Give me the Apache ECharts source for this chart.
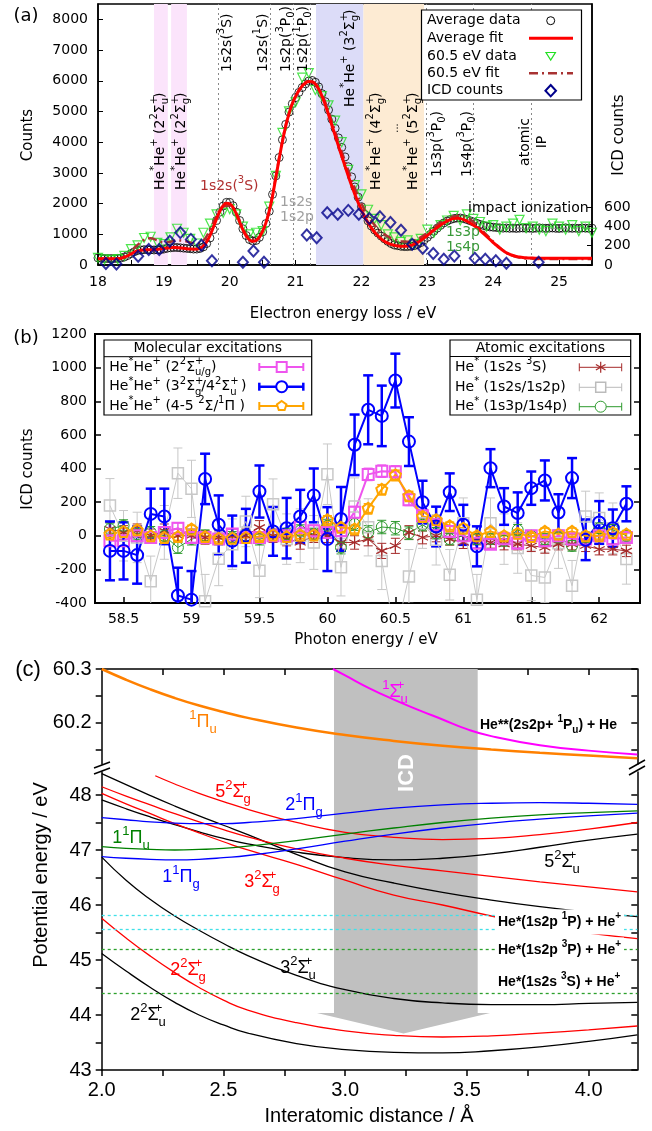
<!DOCTYPE html>
<html>
<head>
<meta charset="utf-8">
<script src="https://cdn.jsdelivr.net/npm/echarts@6.0.0/dist/echarts.min.js"></script>
<style>
html,body{margin:0;padding:0;background:#fff;}
#chart{width:652px;height:1131px;}
</style>
</head>
<body>
<div id="chart"></div>
<script>
const FA = 'DejaVu Sans';
const FC = 'Liberation Sans';

// ---------------- Panel (a): electron energy loss ----------------
const lossGrid05 = [
18,18.05,18.1,18.15,18.2,18.25,18.3,18.35,18.4,18.45,
18.5,18.55,18.6,18.65,18.7,18.75,18.8,18.85,18.9,18.95,
19,19.05,19.1,19.15,19.2,19.25,19.3,19.35,19.4,19.45,
19.5,19.55,19.6,19.65,19.7,19.75,19.8,19.85,19.9,19.95,
20,20.05,20.1,20.15,20.2,20.25,20.3,20.35,20.4,20.45,
20.5,20.55,20.6,20.65,20.7,20.75,20.8,20.85,20.9,20.95,
21,21.05,21.1,21.15,21.2,21.25,21.3,21.35,21.4,21.45,
21.5,21.55,21.6,21.65,21.7,21.75,21.8,21.85,21.9,21.95,
22,22.05,22.1,22.15,22.2,22.25,22.3,22.35,22.4,22.45,
22.5,22.55,22.6,22.65,22.7,22.75,22.8,22.85,22.9,22.95,
23,23.05,23.1,23.15,23.2,23.25,23.3,23.35,23.4,23.45,
23.5,23.55,23.6,23.65,23.7,23.75,23.8,23.85,23.9,23.95,
24,24.05,24.1,24.15,24.2,24.25,24.3,24.35,24.4,24.45,
24.5,24.55,24.6,24.65,24.7,24.75,24.8,24.85,24.9,24.95,
25,25.05,25.1,25.15,25.2,25.25,25.3,25.35,25.4,25.45,
25.5];
const avgCounts = [
230,220,210,210,210,210,215,230,260,310,
370,430,470,490,500,500,495,490,495,500,
520,545,560,570,570,560,550,540,530,520,
520,540,590,700,880,1150,1450,1720,1920,2040,
2040,1930,1720,1450,1180,960,830,780,800,900,
1080,1350,1750,2300,2900,3500,4080,4580,4980,5250,
5450,5620,5780,5900,5990,6010,5950,5800,5580,5320,
5050,4750,4450,4140,3830,3520,3200,2870,2540,2210,
1900,1650,1440,1270,1140,1040,940,850,770,700,
650,630,610,600,600,610,630,670,730,810,
900,1000,1100,1200,1290,1370,1430,1480,1510,1530,
1530,1510,1480,1440,1400,1360,1320,1290,1260,1240,
1230,1220,1210,1200,1205,1195,1200,1190,1200,1205,
1195,1200,1190,1200,1210,1200,1195,1200,1205,1195,
1190,1200,1210,1200,1195,1200,1190,1205,1200,1195,
1200];
const avgFitCounts = [
200,200,200,200,200,205,210,220,250,300,
360,420,460,480,490,495,495,500,510,525,
540,555,565,570,565,555,545,530,520,515,
520,550,620,760,960,1220,1500,1750,1930,2010,
1990,1870,1660,1400,1150,950,820,770,800,910,
1100,1380,1760,2250,2850,3450,4020,4520,4930,5250,
5490,5680,5830,5930,5980,5970,5890,5730,5500,5220,
4900,4560,4220,3880,3550,3220,2900,2590,2300,2030,
1790,1570,1380,1210,1070,950,850,770,710,670,
640,620,610,610,620,640,680,730,800,880,
960,1050,1140,1220,1300,1370,1430,1480,1510,1520,
1510,1480,1430,1370,1300,1220,1130,1030,930,830,
730,640,550,470,400,350,310,280,260,245,
235,230,225,222,220,220,220,218,218,218,
218,218,218,218,218,218,218,218,218,218,
218];
const lossGrid10 = [
18,18.1,18.2,18.3,18.4,18.5,18.6,18.7,18.8,18.9,
19,19.1,19.2,19.3,19.4,19.5,19.6,19.7,19.8,19.9,
20,20.1,20.2,20.3,20.4,20.5,20.6,20.7,20.8,20.9,
21,21.1,21.2,21.3,21.4,21.5,21.6,21.7,21.8,21.9,
22,22.1,22.2,22.3,22.4,22.5,22.6,22.7,22.8,22.9,
23,23.1,23.2,23.3,23.4,23.5,23.6,23.7,23.8,23.9,
24,24.1,24.2,24.3,24.4,24.5,24.6,24.7,24.8,24.9,
25,25.1,25.2,25.3,25.4,25.5];
const counts605 = [
230,180,160,190,300,520,640,880,920,720,
680,900,1180,1050,850,700,1050,1350,1650,1700,
1820,1650,1250,1000,1050,1100,1900,2900,4300,5000,
5300,6100,6250,5700,5500,5200,4700,4000,3100,2600,
2300,1800,1500,1300,1000,900,750,800,680,850,
1150,1050,1300,1450,1600,1450,1650,1500,1400,1250,
1300,1150,1250,1350,1470,1200,1250,1150,1100,1350,
1250,1150,1300,1100,1250,1050];
const fit605Counts = [
200,200,200,210,280,450,650,820,870,800,
740,760,800,790,730,700,800,1150,1600,1900,
1930,1680,1200,880,840,1120,1780,2880,4050,4950,
5500,5830,5970,5900,5550,5000,4350,3700,3080,2500,
2000,1600,1300,1080,930,830,770,760,800,900,
1050,1220,1380,1500,1580,1600,1540,1400,1200,980,
760,560,400,300,240,210,200,195,195,195,
195,195,195,195,195,195];
const icdLoss = [18.12,18.28,18.61,18.77,18.93,19.09,19.25,19.41,19.57,19.73,20.20,20.36,20.52,21.17,21.32,21.48,21.64,21.80,21.96,22.12,22.28,22.44,22.60,22.77,22.93,23.09,23.25,23.41,23.72,23.88,24.04,24.20,24.69];
const icdCountsA = [15,10,90,160,160,245,335,265,205,45,28,145,28,310,283,540,525,565,525,480,500,440,360,215,173,120,60,93,70,60,45,18,28];
const bandStart = [18.85, 19.11, 21.31, 22.03];
const bandEnd = [19.06, 19.35, 22.03, 22.95];
const atomicLines = [19.82, 20.61, 20.96, 21.22, 22.99, 23.70, 24.58];
const lossTicks = [18,18.5,19,19.5,20,20.5,21,21.5,22,22.5,23,23.5,24,24.5,25];
const lossLabels = [18,19,20,21,22,23,24,25];
const countLabels = [0,1000,2000,3000,4000,5000,6000,7000,8000];
const icdLabelsA = [0,200,400,600];

// ---------------- Panel (b): ICD counts vs photon energy ----------------
const photonE = [58.4,58.5,58.6,58.7,58.8,58.9,59.0,59.1,59.2,59.3,59.4,59.5,59.6,59.7,59.8,59.9,60.0,60.1,60.2,60.3,60.4,60.5,60.6,60.7,60.8,60.9,61.0,61.1,61.2,61.3,61.4,61.5,61.6,61.7,61.8,61.9,62.0,62.1,62.2];
const icdMol22 = [-30,-30,0,-10,20,45,-10,-10,-20,10,-10,-10,0,0,50,30,20,30,140,365,384,380,214,119,65,26,0,-44,-50,-18,-44,0,-30,0,-20,-20,0,-20,-10];
const errMol22 = [30,30,30,30,32,32,30,30,30,30,30,30,30,30,32,32,32,32,34,36,36,36,34,32,30,30,28,28,28,28,28,28,28,28,28,28,28,28,28];
const icdMol34 = [-90,-90,-115,130,115,-355,-380,338,65,-30,0,263,26,45,115,240,-20,100,541,749,713,923,560,200,55,259,65,-63,402,174,135,283,329,138,343,-24,79,45,190];
const errMol34 = [175,170,170,150,165,165,170,150,175,150,160,155,145,180,158,160,190,190,180,205,180,160,145,127,118,112,119,119,113,109,123,99,119,109,119,121,127,111,104];
const icdMol45 = [10,25,35,0,-10,-5,40,-5,-15,-15,-10,-5,5,-5,5,5,95,50,40,164,276,362,238,115,95,59,45,0,26,0,15,-5,26,10,26,0,0,20,10];
const errMol45 = [22,22,22,22,22,22,22,22,22,22,22,22,22,22,22,22,24,24,24,26,28,28,26,24,22,22,22,20,20,20,20,20,20,20,20,20,20,20,20];
const icdAt3S = [40,20,30,0,30,0,0,-10,-10,0,0,50,0,-20,-40,0,0,-40,-40,-20,-90,-60,20,-10,0,-20,-40,-20,-40,-50,-50,-60,-70,-50,-50,-60,-80,-80,-90];
const errAt3S = [40,40,40,40,40,40,40,40,40,40,40,40,40,40,40,40,40,40,40,40,45,45,40,38,36,36,36,34,34,34,34,34,34,34,34,34,34,34,34];
const icdAt2s2p = [180,0,-10,-271,20,372,279,-390,-137,-50,85,-208,188,-20,0,-40,366,-188,174,50,-150,-600,-242,75,-24,-232,75,-380,75,-20,-73,-236,-248,-44,-297,115,105,45,-138];
const errAt2s2p = [160,150,150,150,160,150,170,160,160,150,150,160,150,150,160,160,180,170,170,170,170,170,160,150,150,150,150,150,150,150,150,150,150,150,150,150,150,150,150];
const icdAt3p4p = [40,60,10,20,0,-70,-20,0,-20,-10,0,-20,0,10,30,10,60,-70,70,20,52,45,15,65,15,-20,0,-20,-20,-30,35,0,-20,-10,-60,-10,45,35,0];
const errAt3p4p = [35,35,35,35,35,35,35,35,35,35,35,35,35,35,35,35,38,38,38,40,40,40,38,36,34,34,34,32,32,32,32,32,32,32,32,32,32,32,32];
const photonLabels = [58.5,59,59.5,60,60.5,61,61.5,62];
const icdLabelsB = [-400,-200,0,200,400,600,800,1000,1200];

// ---------------- Panel (c): potential curves ----------------
const rGrid = [2.0,2.1,2.2,2.3,2.4,2.5,2.6,2.8,3.0,3.2,3.4,3.6,3.8,4.0,4.2];
const pot1PiuUpper = [60.300,60.280,60.262,60.246,60.232,60.220,60.209,60.191,60.177,60.166,60.157,60.150,60.144,60.139,60.134];
const r1Sigu = [2.95,3.0,3.1,3.2,3.3,3.4,3.5,3.6,3.8,4.0,4.2];
const pot1SiguUpper = [60.300,60.288,60.264,60.243,60.224,60.206,60.188,60.175,60.158,60.148,60.141];
const potBlackA = [48.39,48.19,47.99,47.80,47.62,47.45,47.28,46.92,46.60,46.40,46.23,46.09,45.97,45.87,45.79];
const pot5Su = [47.91,47.75,47.60,47.46,47.33,47.21,47.11,46.96,46.86,46.82,46.85,46.93,47.05,47.18,47.29];
const potRedA = [48.15,47.98,47.82,47.66,47.51,47.37,47.24,47.02,46.85,46.72,46.62,46.52,46.42,46.33,46.24];
const pot3Sg = [48.03,47.84,47.66,47.48,47.31,47.15,47.00,46.74,46.45,46.18,46.00,45.80,45.62,45.49,45.39];
const r5Sg = [2.22,2.3,2.4,2.5,2.6,2.8,3.0,3.2,3.4,3.6,3.8,4.0,4.2];
const pot5Sg = [48.35,48.20,48.03,47.88,47.74,47.50,47.32,47.23,47.19,47.21,47.28,47.38,47.50];
const pot2Pig = [47.59,47.55,47.51,47.49,47.48,47.48,47.50,47.57,47.67,47.76,47.82,47.85,47.86,47.85,47.83];
const pot1Pig = [46.88,46.85,46.83,46.82,46.83,46.86,46.90,47.02,47.16,47.29,47.40,47.49,47.56,47.62,47.67];
const pot1Piu = [47.06,47.03,47.01,47.00,47.01,47.03,47.07,47.17,47.29,47.40,47.50,47.58,47.64,47.68,47.71];
const pot3Su = [46.87,46.45,46.10,45.80,45.54,45.30,45.08,44.72,44.46,44.30,44.22,44.19,44.19,44.21,44.23];
const pot2Sg = [45.76,45.40,45.07,44.77,44.50,44.27,44.09,43.86,43.71,43.63,43.60,43.62,43.67,43.73,43.80];
const pot2Su = [45.12,44.80,44.50,44.23,44.00,43.82,43.67,43.48,43.37,43.32,43.31,43.35,43.42,43.52,43.64];
const asymptotes = [45.81, 45.56, 45.20, 44.40];
const distTicks = [2.0,2.25,2.5,2.75,3.0,3.25,3.5,3.75,4.0];
const distTicksTop = [2.25,2.5,2.75,3.0,3.25,3.5,3.75,4.0];
const distLabels = [2.0,2.5,3.0,3.5,4.0];
const upperTicks = [60.15,60.2,60.25,60.3];
const upperLabels = [60.2,60.3];
const lowerTicks = [43,43.5,44,44.5,45,45.5,46,46.5,47,47.5,48];
const lowerLabels = [43,44,45,46,47,48];

// ---------------- helpers ----------------
function pairs(xs, ys) { return xs.map((x, i) => [x, ys[i]]); }

function rt(s) {
  let out = '', buf = '', i = 0;
  const flush = () => { if (buf) { out += '{n|' + buf + '}'; buf = ''; } };
  while (i < s.length) {
    const c = s[i];
    if (c === '^' || c === '_') {
      flush(); i++;
      let z = false;
      if (s[i] === '!') { z = true; i++; }
      let t;
      if (s[i] === '{') { const j = s.indexOf('}', i); t = s.slice(i + 1, j); i = j + 1; }
      else { t = s[i]; i++; }
      out += '{' + (c === '^' ? 'p' : 'b') + (z ? 'z' : '') + '|' + t + '}';
    } else { buf += c; i++; }
  }
  flush();
  return out;
}
function fontStr(size, fam, weight) { return (weight || 'normal') + ' ' + size + 'px "' + fam + '"'; }
function richSet(size, fam, color, weight) {
  const s = Math.round(size * 0.7);
  const lh = Math.round(size * 1.5);
  return {
    n: {font: fontStr(size, fam, weight), fill: color, lineHeight: lh},
    p: {font: fontStr(s, fam, weight), fill: color, verticalAlign: 'top'},
    b: {font: fontStr(s, fam, weight), fill: color, verticalAlign: 'bottom'},
    pz: {font: fontStr(s, fam, weight), fill: color, verticalAlign: 'top', width: 0.01},
    bz: {font: fontStr(s, fam, weight), fill: color, verticalAlign: 'bottom', width: 0.01}
  };
}
function T(str, x, y, o) {
  o = o || {};
  const size = o.size || 14, fam = o.fam || FA, color = o.color || '#000';
  const el = {
    type: 'text', x: x, y: y, z: o.z || 100, silent: true,
    rotation: o.rot ? Math.PI / 2 : 0,
    style: {
      text: rt(str), rich: richSet(size, fam, color, o.weight),
      font: fontStr(size, fam, o.weight), fill: color,
      align: o.align || 'center', verticalAlign: 'middle'
    }
  };
  if (o.bg) { el.style.backgroundColor = o.bg; el.style.padding = o.pad || [1, 3]; }
  return el;
}
function P(str, x, y, o) {
  o = o || {};
  const size = o.size || 14, fam = o.fam || FA;
  return {
    type: 'text', x: x, y: y, z: o.z || 100, silent: true,
    rotation: o.rot ? Math.PI / 2 : 0,
    style: {
      text: str, font: fontStr(size, fam, o.weight), fill: o.color || '#000',
      align: o.align || 'center', verticalAlign: 'middle', lineHeight: o.lh || Math.round(size * 1.2)
    }
  };
}
function axLine(w) { return {show: true, onZero: false, lineStyle: {color: '#000', width: w}}; }
const plainNum = v => String(v);
const fontA = {color: '#000', fontFamily: FA, fontSize: 14, formatter: plainNum};
const fontC = {color: '#000', fontFamily: FC, fontSize: 20, formatter: plainNum};

// symbol paths
const ASTERISK = 'path://M0,-10L0,10M-8.66,-5L8.66,5M-8.66,5L8.66,-5';
const PENTAGON = 'path://M0,-10L9.51,-3.09L5.88,8.09L-5.88,8.09L-9.51,-3.09Z';

// ---------------- series ----------------
const series = [];
const bandColors = ['#fbe4fb', '#fbe4fb', '#dcdcf8', '#fdebd3'];

series.push({
  type: 'scatter', xAxisIndex: 0, yAxisIndex: 0, silent: true, z: 2,
  data: pairs(lossGrid05, avgCounts), symbol: 'circle', symbolSize: 8,
  itemStyle: {color: 'rgba(0,0,0,0)', borderColor: '#000', borderWidth: 1},
  markArea: {silent: true, data: bandStart.map((s, i) => [{xAxis: s, itemStyle: {color: bandColors[i], opacity: 1}}, {xAxis: bandEnd[i]}])},
  markLine: {silent: true, symbol: ['none', 'none'], label: {show: false},
    lineStyle: {type: [2, 3], color: '#888', width: 1}, data: atomicLines.map(v => ({xAxis: v}))}
});
series.push({
  type: 'scatter', xAxisIndex: 0, yAxisIndex: 0, silent: true, z: 3,
  data: pairs(lossGrid10, counts605), symbol: 'triangle', symbolRotate: 180, symbolSize: 9,
  itemStyle: {color: 'rgba(0,0,0,0)', borderColor: '#22e022', borderWidth: 1.2}
});
series.push({
  type: 'line', xAxisIndex: 0, yAxisIndex: 0, silent: true, z: 4, smooth: true, showSymbol: false,
  data: pairs(lossGrid10, fit605Counts),
  lineStyle: {color: '#a83232', width: 2.5, type: [9, 4, 2, 4]}
});
series.push({
  type: 'line', xAxisIndex: 0, yAxisIndex: 0, silent: true, z: 5, smooth: true, showSymbol: false,
  data: pairs(lossGrid05, avgFitCounts),
  lineStyle: {color: '#ff0000', width: 3}
});
series.push({
  type: 'scatter', xAxisIndex: 0, yAxisIndex: 1, silent: true, z: 6,
  data: pairs(icdLoss, icdCountsA), symbol: 'diamond', symbolSize: [10, 11],
  itemStyle: {color: 'rgba(0,0,0,0)', borderColor: '#00008b', borderWidth: 2}
});

function errSeries(ys, es, color, w, cap) {
  return {
    type: 'custom', xAxisIndex: 1, yAxisIndex: 2, clip: true, silent: true, z: 2,
    data: photonE.map((x, i) => [x, ys[i], es[i]]),
    encode: {x: 0, y: 1},
    renderItem: function (params, api) {
      const x = api.value(0), y = api.value(1), e = api.value(2);
      const a = api.coord([x, y + e]), b = api.coord([x, y - e]);
      const st = {stroke: color, lineWidth: w};
      return {type: 'group', children: [
        {type: 'line', shape: {x1: a[0], y1: a[1], x2: b[0], y2: b[1]}, style: st},
        {type: 'line', shape: {x1: a[0] - cap, y1: a[1], x2: a[0] + cap, y2: a[1]}, style: st},
        {type: 'line', shape: {x1: b[0] - cap, y1: b[1], x2: b[0] + cap, y2: b[1]}, style: st}
      ]};
    }
  };
}
function ptSeries(ys, color, lw, sym, size, bw) {
  return {
    type: 'line', xAxisIndex: 1, yAxisIndex: 2, silent: true, z: 2, clip: true,
    data: pairs(photonE, ys), symbol: sym, symbolSize: size, showSymbol: true, showAllSymbol: true,
    lineStyle: {color: color, width: lw},
    itemStyle: {color: 'rgba(0,0,0,0)', borderColor: color, borderWidth: bw}
  };
}
const cGray = '#c8c8c8', cBrown = '#a52a2a', cGreen = '#2e9a2e', cMag = '#ee55ee', cBlue = '#0000ff', cOra = '#ffa500';
series.push(errSeries(icdAt2s2p, errAt2s2p, cGray, 1, 4.5));
series.push(ptSeries(icdAt2s2p, cGray, 1, 'rect', 11, 1.5));
series.push(errSeries(icdAt3S, errAt3S, cBrown, 1, 4.5));
series.push(ptSeries(icdAt3S, cBrown, 1, ASTERISK, 11, 1.2));
series.push(errSeries(icdAt3p4p, errAt3p4p, cGreen, 1, 4.5));
series.push(ptSeries(icdAt3p4p, cGreen, 1, 'circle', 11, 1));
series.push(errSeries(icdMol22, errMol22, cMag, 1.5, 4.5));
series.push(ptSeries(icdMol22, cMag, 2, 'rect', 11, 2));
series.push(errSeries(icdMol34, errMol34, cBlue, 2.5, 5));
series.push(ptSeries(icdMol34, cBlue, 2, 'circle', 12, 2));
series.push(errSeries(icdMol45, errMol45, cOra, 1.5, 4.5));
series.push(ptSeries(icdMol45, cOra, 2, PENTAGON, 11, 2));

// panel (c)
series.push({type: 'line', xAxisIndex: 2, yAxisIndex: 4, silent: true, smooth: true, showSymbol: false, z: 2,
  data: pairs(rGrid, pot1PiuUpper), lineStyle: {color: '#ff8000', width: 2.5}});
series.push({type: 'line', xAxisIndex: 2, yAxisIndex: 4, silent: true, smooth: true, showSymbol: false, z: 2,
  data: pairs(r1Sigu, pot1SiguUpper), lineStyle: {color: '#ff00ff', width: 2}});
const lowerCurves = [
  [rGrid, potBlackA, '#000000'], [rGrid, pot5Su, '#000000'], [rGrid, potRedA, '#ff0000'],
  [rGrid, pot3Sg, '#ff0000'], [r5Sg, pot5Sg, '#ff0000'], [rGrid, pot2Pig, '#0000ff'],
  [rGrid, pot1Pig, '#0000ff'], [rGrid, pot1Piu, '#008000'], [rGrid, pot3Su, '#000000'],
  [rGrid, pot2Sg, '#ff0000'], [rGrid, pot2Su, '#000000']
];
const asymColors = ['#40e0e8', '#40e0e8', '#2ca02c', '#2ca02c'];
lowerCurves.forEach((c, k) => {
  const s = {type: 'line', xAxisIndex: 3, yAxisIndex: 6, silent: true, smooth: true, showSymbol: false, z: 2,
    data: pairs(c[0], c[1]), lineStyle: {color: c[2], width: 1.3}};
  if (k === lowerCurves.length - 1) {
    s.markLine = {silent: true, symbol: ['none', 'none'], label: {show: false},
      data: asymptotes.map((v, i) => ({yAxis: v, lineStyle: {color: asymColors[i], type: [3, 3], width: 1.3}}))};
  }
  series.push(s);
});

// ---------------- graphics ----------------
const G = [];
// panel labels & axis titles
G.push(P('(a)', 26, 16, {size: 18}));
G.push(P('(b)', 26, 338, {size: 18}));
G.push(P('(c)', 28, 670, {size: 22, fam: FC}));
G.push(P('Counts', 28, 135, {size: 15, rot: true}));
G.push(P('ICD counts', 619, 135, {size: 15, rot: true}));
G.push(P('Electron energy loss / eV', 343, 314, {size: 15}));
G.push(P('ICD counts', 28, 469, {size: 15, rot: true}));
G.push(P('Photon energy / eV', 366, 640, {size: 15}));
G.push(P('Potential energy / eV', 41, 875, {size: 20, fam: FC, rot: true}));
G.push(P('Interatomic distance / Å', 369, 1116, {size: 20, fam: FC}));

// panel (a) annotations (rotated, anchored at bottom)
const rotA = [
  ['1s2s(^3S)', 227, 72], ['1s2s(^1S)', 263, 72], ['1s2p(^3P_0)', 286, 72], ['1s2p(^1P_0)', 303, 72],
  ['He^*He^+ (3^2Σ^!+_g)', 350, 107], ['He^*He^+ (4^2Σ^!+_g)', 376, 190], ['He^*He^+ (5^2Σ^!+_g)', 413, 190],
  ['1s3p(^3P_0)', 437, 177], ['1s4p(^3P_0)', 467, 177],
  ['He^*He^+ (2^2Σ^!+_u)', 160, 190], ['He^*He^+ (2^2Σ^!+_g)', 181, 190]
];
rotA.forEach(a => G.push(T(a[0], a[1], a[2], {rot: true, align: 'left'})));
G.push(P('...', 395, 128, {rot: true, size: 10}));
G.push(P('atomic\nIP', 534, 142, {rot: true, lh: 17}));
G.push(T('1s2s(^3S)', 200, 186, {align: 'left', color: '#b03030'}));
G.push(P('1s2s\n1s2p', 280, 210, {align: 'left', color: '#a0a0a0', lh: 15}));
G.push(P('impact ionization', 468, 208, {align: 'left'}));
G.push(P('1s3p\n1s4p', 446, 240, {align: 'left', color: '#3a9a3a', lh: 15}));

// legend (a)
G.push({type: 'rect', z: 99, silent: true, shape: {x: 421.5, y: 10, width: 160, height: 90}, style: {fill: '#fff', stroke: '#000', lineWidth: 1.2}});
const legA = ['Average data', 'Average fit', '60.5 eV data', '60.5 eV fit', 'ICD counts'];
const legAY = [20.7, 38.3, 56, 73.3, 90.7];
legA.forEach((t, i) => G.push(P(t, 427, legAY[i], {align: 'left'})));
G.push({type: 'circle', z: 101, silent: true, shape: {cx: 550.7, cy: 20.7, r: 4}, style: {fill: 'none', stroke: '#000', lineWidth: 1}});
G.push({type: 'line', z: 101, silent: true, shape: {x1: 529, y1: 38.3, x2: 573, y2: 38.3}, style: {stroke: '#ff0000', lineWidth: 3}});
G.push({type: 'polygon', z: 101, silent: true, shape: {points: [[546, 52.5], [555.4, 52.5], [550.7, 60]]}, style: {fill: 'none', stroke: '#22e022', lineWidth: 1.2}});
G.push({type: 'line', z: 101, silent: true, shape: {x1: 529, y1: 73.3, x2: 573, y2: 73.3}, style: {stroke: '#a83232', lineWidth: 2.5, lineDash: [9, 4, 2, 4]}});
G.push({type: 'polygon', z: 101, silent: true, shape: {points: [[550.7, 85], [556, 90.7], [550.7, 96.4], [545.4, 90.7]]}, style: {fill: 'none', stroke: '#00008b', lineWidth: 2}});

// legends (b)
function legSym(kind, cx, cy, color, bw, lw, x1, x2) {
  const st = {stroke: color, lineWidth: lw};
  const out = [
    {type: 'line', z: 101, silent: true, shape: {x1: x1, y1: cy, x2: x2, y2: cy}, style: st},
    {type: 'line', z: 101, silent: true, shape: {x1: x1, y1: cy - 4, x2: x1, y2: cy + 4}, style: st},
    {type: 'line', z: 101, silent: true, shape: {x1: x2, y1: cy - 4, x2: x2, y2: cy + 4}, style: st}
  ];
  const ss = {fill: '#fff', stroke: color, lineWidth: bw};
  if (kind === 'square') out.push({type: 'rect', z: 102, silent: true, shape: {x: cx - 5, y: cy - 5, width: 10, height: 10}, style: ss});
  if (kind === 'circle') out.push({type: 'circle', z: 102, silent: true, shape: {cx: cx, cy: cy, r: 5.5}, style: ss});
  if (kind === 'pent') out.push({type: 'polygon', z: 102, silent: true, shape: {points: [[cx, cy - 5], [cx + 4.76, cy - 1.55], [cx + 2.94, cy + 4.05], [cx - 2.94, cy + 4.05], [cx - 4.76, cy - 1.55]]}, style: ss});
  if (kind === 'ast') {
    const s2 = {stroke: color, lineWidth: bw};
    out.push({type: 'line', z: 102, silent: true, shape: {x1: cx, y1: cy - 5.5, x2: cx, y2: cy + 5.5}, style: s2});
    out.push({type: 'line', z: 102, silent: true, shape: {x1: cx - 4.8, y1: cy - 2.8, x2: cx + 4.8, y2: cy + 2.8}, style: s2});
    out.push({type: 'line', z: 102, silent: true, shape: {x1: cx - 4.8, y1: cy + 2.8, x2: cx + 4.8, y2: cy - 2.8}, style: s2});
  }
  return out;
}
function legBox(x, y, w, h, sepY, title) {
  G.push({type: 'rect', z: 99, silent: true, shape: {x: x, y: y, width: w, height: h}, style: {fill: '#fff', stroke: '#000', lineWidth: 1.2}});
  G.push({type: 'line', z: 100, silent: true, shape: {x1: x, y1: sepY, x2: x + w, y2: sepY}, style: {stroke: '#000', lineWidth: 1}});
  G.push(P(title, x + w / 2, (y + sepY) / 2 + 0.5, {}));
}
legBox(104, 340, 207.7, 75, 356.7, 'Molecular excitations');
legBox(450, 340, 180.7, 75, 356.5, 'Atomic excitations');
const legBL = [['He^*He^+ (2^2Σ^!+_{u/g})', 'square', cMag, 2, 2], ['He^*He^+ (3^2Σ^!+_g/4^2Σ^!+_u )', 'circle', cBlue, 2, 2.5], ['He^*He^+ (4-5 ^2Σ/^1Π )', 'pent', cOra, 2, 2]];
const legBLY = [367, 386.7, 406];
legBL.forEach((r, i) => {
  G.push(T(r[0], 109.3, legBLY[i], {align: 'left'}));
  legSym(r[1], 281.7, legBLY[i], r[2], r[3], r[4], 259.3, 303.3).forEach(e => G.push(e));
});
const legBR = [['He^* (1s2s ^3S)', 'ast', cBrown, 1.2, 1], ['He^* (1s2s/1s2p)', 'square', '#bbbbbb', 1.5, 1], ['He^* (1s3p/1s4p)', 'circle', cGreen, 1, 1]];
const legBRY = [367.3, 387.3, 406.7];
legBR.forEach((r, i) => {
  G.push(T(r[0], 455, legBRY[i], {align: 'left'}));
  legSym(r[1], 600.7, legBRY[i], r[2], r[3], r[4], 579.3, 621.7).forEach(e => G.push(e));
});

// panel (c) decorations
G.push({type: 'polygon', z: 1, silent: true, shape: {points: [[334, 669], [477.7, 669], [477.7, 1013], [490, 1013], [403.5, 1033.5], [317, 1013], [334, 1013]]}, style: {fill: '#c0c0c0'}});
G.push(P('ICD', 407, 773, {size: 22, fam: FC, weight: 'bold', color: '#fff', rot: true, z: 3}));
[[94, 768, 110, 762], [94, 774, 110, 768], [629, 769, 645, 760], [629, 775, 645, 766]].forEach(l =>
  G.push({type: 'line', z: 10, silent: true, shape: {x1: l[0], y1: l[1], x2: l[2], y2: l[3]}, style: {stroke: '#000', lineWidth: 1.5}}));
const curveLabels = [
  ['^1Π_u', 203, 722, '#ff8000'], ['^1Σ^!+_u', 395, 692, '#ff00ff'],
  ['5^2Σ^!+_g', 233, 792, '#ff0000'], ['2^1Π_g', 304, 805, '#0000ff'],
  ['1^1Π_u', 131, 838, '#008000'], ['1^1Π_g', 181, 877, '#0000ff'],
  ['3^2Σ^!+_g', 262, 882, '#ff0000'], ['5^2Σ^!+_u', 562, 862, '#000000'],
  ['3^2Σ^!+_u', 298, 968, '#000000'], ['2^2Σ^!+_g', 188, 970, '#ff0000'],
  ['2^2Σ^!+_u', 148, 1015, '#000000']
];
curveLabels.forEach(c => G.push(T(c[0], c[1], c[2], {size: 18, fam: FC, color: c[3]})));
G.push(T('He**(2s2p+ ^1P_u) + He', 480, 725, {align: 'left', size: 14, fam: FC, weight: 'bold'}));
G.push(T('He*(1s2p ^1P) + He^+', 495, 922, {align: 'left', size: 14, fam: FC, weight: 'bold', bg: '#fff', pad: [2, 3]}));
G.push(T('He*(1s2p ^3P) + He^+', 495, 950, {align: 'left', size: 14, fam: FC, weight: 'bold', bg: '#fff', pad: [2, 3]}));
G.push(T('He*(1s2s ^3S) + He^+', 498, 982, {align: 'left', size: 14, fam: FC, weight: 'bold'}));

// ---------------- option ----------------
const option = {
  animation: false,
  backgroundColor: '#fff',
  textStyle: {fontFamily: FA},
  grid: [
    {left: 98, top: 4, width: 494, height: 261, show: true, borderColor: '#000', borderWidth: 1.5, backgroundColor: 'rgba(0,0,0,0)'},
    {left: 95, top: 334, width: 545, height: 269, show: true, borderColor: '#000', borderWidth: 2, backgroundColor: 'rgba(0,0,0,0)'},
    {left: 101.7, top: 669, width: 535.6, height: 95},
    {left: 101.7, top: 772, width: 535.6, height: 298}
  ],
  xAxis: [
    {type: 'value', gridIndex: 0, min: 18, max: 25.5, axisLine: axLine(1.5), splitLine: {show: false},
      axisTick: {show: true, inside: true, length: 5, customValues: lossTicks, lineStyle: {color: '#000', width: 1}},
      axisLabel: Object.assign({customValues: lossLabels, margin: 10}, fontA)},
    {type: 'value', gridIndex: 1, min: 58.29, max: 62.3, axisLine: axLine(2), splitLine: {show: false},
      axisTick: {show: true, inside: true, length: 6, customValues: photonLabels, lineStyle: {color: '#000', width: 1.5}},
      axisLabel: Object.assign({customValues: photonLabels, margin: 9}, fontA)},
    {type: 'value', gridIndex: 2, position: 'top', min: 2, max: 4.2, axisLine: axLine(1.5), splitLine: {show: false},
      axisTick: {show: true, inside: true, length: 6, customValues: distTicksTop, lineStyle: {color: '#000', width: 1.5}},
      axisLabel: {show: false}},
    {type: 'value', gridIndex: 3, min: 2, max: 4.2, axisLine: axLine(1.5), splitLine: {show: false},
      axisTick: {show: true, inside: false, length: 6, customValues: distTicks, lineStyle: {color: '#000', width: 1.5}},
      axisLabel: Object.assign({}, fontC, {customValues: distLabels, margin: 10, formatter: v => Number(v).toFixed(1)})}
  ],
  yAxis: [
    {type: 'value', gridIndex: 0, min: 0, max: 8500, axisLine: axLine(1.5), splitLine: {show: false},
      axisTick: {show: true, inside: true, length: 5, customValues: countLabels, lineStyle: {color: '#000', width: 1}},
      axisLabel: Object.assign({customValues: countLabels, margin: 10}, fontA)},
    {type: 'value', gridIndex: 0, position: 'right', min: 0, max: 2700, axisLine: axLine(1.5), splitLine: {show: false},
      axisTick: {show: true, inside: true, length: 5, customValues: icdLabelsA, lineStyle: {color: '#000', width: 1}},
      axisLabel: Object.assign({customValues: icdLabelsA, margin: 12}, fontA)},
    {type: 'value', gridIndex: 1, min: -400, max: 1200, axisLine: axLine(2), splitLine: {show: false},
      axisTick: {show: true, inside: true, length: 6, customValues: icdLabelsB, lineStyle: {color: '#000', width: 1.5}},
      axisLabel: Object.assign({customValues: icdLabelsB, margin: 8}, fontA)},
    {type: 'value', gridIndex: 1, position: 'right', min: -400, max: 1200, axisLine: axLine(2), splitLine: {show: false},
      axisTick: {show: true, inside: true, length: 6, customValues: icdLabelsB, lineStyle: {color: '#000', width: 1.5}},
      axisLabel: {show: false}},
    {type: 'value', gridIndex: 2, min: 60.1231, max: 60.3, axisLine: axLine(1.5), splitLine: {show: false},
      axisTick: {show: true, inside: false, length: 6, customValues: upperTicks, lineStyle: {color: '#000', width: 1.5}},
      axisLabel: Object.assign({customValues: upperLabels, margin: 10}, fontC)},
    {type: 'value', gridIndex: 2, position: 'right', min: 60.1231, max: 60.3, axisLine: axLine(1.5), splitLine: {show: false},
      axisTick: {show: true, inside: true, length: 6, customValues: upperTicks, lineStyle: {color: '#000', width: 1.5}},
      axisLabel: {show: false}},
    {type: 'value', gridIndex: 3, min: 43, max: 48.418, axisLine: axLine(1.5), splitLine: {show: false},
      axisTick: {show: true, inside: false, length: 6, customValues: lowerTicks, lineStyle: {color: '#000', width: 1.5}},
      axisLabel: Object.assign({customValues: lowerLabels, margin: 10}, fontC)},
    {type: 'value', gridIndex: 3, position: 'right', min: 43, max: 48.418, axisLine: axLine(1.5), splitLine: {show: false},
      axisTick: {show: true, inside: true, length: 6, customValues: lowerTicks, lineStyle: {color: '#000', width: 1.5}},
      axisLabel: {show: false}}
  ],
  series: series,
  graphic: {elements: G}
};

const chart = echarts.init(document.getElementById('chart'), null, {renderer: 'canvas', width: 652, height: 1131});
chart.setOption(option);
</script>
</body>
</html>
